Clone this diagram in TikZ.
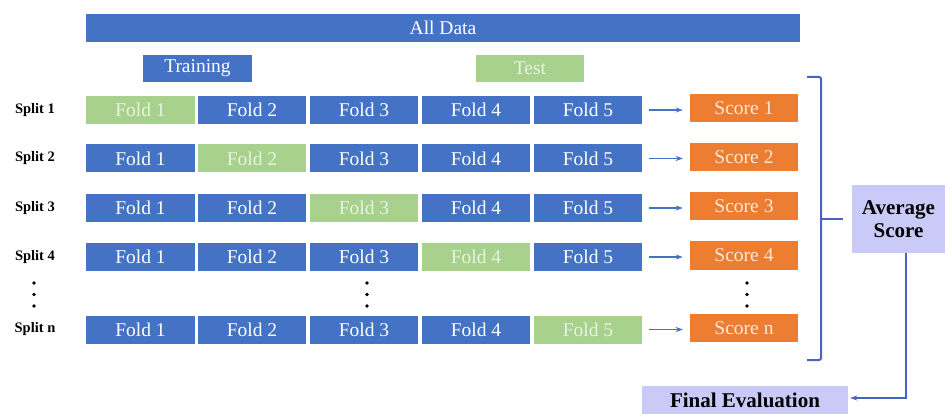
\documentclass[tikz,border=0pt]{standalone}
\usepackage{fontspec}
\setmainfont{Liberation Serif}
\usetikzlibrary{arrows.meta}
\definecolor{cblue}{HTML}{4472C4}
\definecolor{cgreen}{HTML}{A9D18E}
\definecolor{cgreentxt}{HTML}{E8F3E0}
\definecolor{corange}{HTML}{ED7D31}
\definecolor{corangetxt}{HTML}{FCE8DA}
\definecolor{clav}{HTML}{CACAF8}
\definecolor{cline}{HTML}{4A62C4}
\begin{document}
\begin{tikzpicture}[x=1pt,y=-1pt,
  box/.style={rectangle,inner sep=0pt,minimum height=28pt,anchor=center,
    font=\fontsize{19.5}{22}\selectfont},
  bluebox/.style={box,fill=cblue,text=white},
  greenbox/.style={box,fill=cgreen,text=cgreentxt},
  orangebox/.style={box,fill=corange,text=corangetxt,minimum width=108pt},
  splitlbl/.style={font=\bfseries\fontsize{14.5}{16}\selectfont,anchor=center},
  lavbox/.style={rectangle,fill=clav,inner sep=0pt,align=center,
    font=\bfseries\fontsize{21}{25}\selectfont},
  arr/.style={draw=cblue,line width=1.2pt,-{Stealth[length=7pt,width=5pt]}},
  brk/.style={draw=cline,line width=2pt,rounded corners=2pt},
  dot/.style={circle,fill=black,inner sep=0pt,minimum size=3.6pt}]
\useasboundingbox (0,0) rectangle (945,414);
% header bars
\node[bluebox,minimum width=714pt] (all) at (443,28) {All Data};
\node[bluebox,minimum width=109pt,minimum height=27pt] (train) at (197.5,68.5) {Training};
\node[greenbox,minimum width=108pt,minimum height=27pt] (test) at (530,68.5) {Test};
% rows
\foreach \r/\y/\g/\lab in {1/110/1/Split 1,2/158.5/2/Split 2,3/208/3/Split 3,4/257/4/Split 4,n/329.5/5/Split n}{
  \node[splitlbl] (sp\r) at (35,\y) {\lab};
  \foreach \k/\x in {1/140.5,2/252,3/364,4/476,5/588}{
    \ifnum\k=\g
      \node[greenbox,minimum width=108.5pt] (f\r\k) at (\x,\y) {Fold \k};
    \else
      \node[bluebox,minimum width=108.5pt] (f\r\k) at (\x,\y) {Fold \k};
    \fi
  }
  \node[orangebox] (s\r) at (744,\y-1.5) {Score \r};
  \draw[arr,shorten <=7pt,shorten >=7pt] (f\r5.east) -- (f\r5.east -| s\r.west);
}
% dots
\foreach \x/\nm in {34/a,367/b,747/c}{
  \node[dot] (d\nm1) at (\x,283) {};
  \node[dot] (d\nm2) at (\x,294.5) {};
  \node[dot] (d\nm3) at (\x,306) {};
}
% bracket
\coordinate (bt0) at (807,77);
\coordinate (bt1) at (821,77);
\coordinate (bb1) at (821,360);
\coordinate (bb0) at (807,360);
\coordinate (bm) at (821,219);
\draw[brk] (bt0) -- (bt1) -- (bb1) -- (bb0);
% average score
\node[lavbox,minimum width=93pt,minimum height=68pt] (avg) at (898.5,219) {Average\\[-2pt]Score};
\draw[draw=cline,line width=2pt,shorten >=9pt] (bm) -- (avg.west);
% final evaluation
\node[lavbox,minimum width=206pt,minimum height=29pt] (final) at (745,400) {Final Evaluation};
\draw[draw=cline,line width=1.6pt,-{Stealth[length=7pt,width=5pt]},shorten >=2pt]
  ([xshift=7.5pt]avg.south) |- ([yshift=2pt]final.east);
\end{tikzpicture}
\end{document}
